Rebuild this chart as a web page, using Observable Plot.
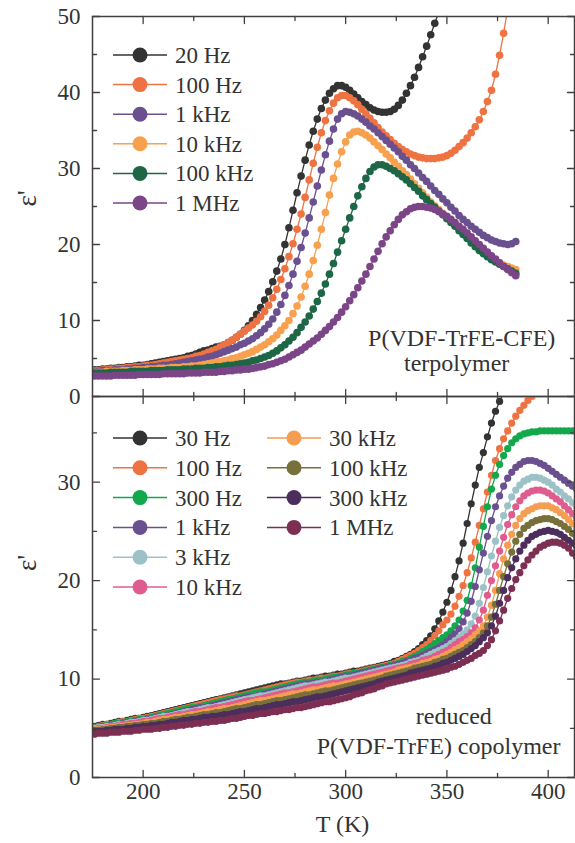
<!DOCTYPE html>
<html><head><meta charset="utf-8">
<script src="https://cdn.jsdelivr.net/npm/d3@7"></script>
<script src="https://cdn.jsdelivr.net/npm/@observablehq/plot@0.6"></script>
<style>
body{margin:0;background:#fff}
#wrap{position:relative;width:575px;height:843px;font-family:'Liberation Serif','DejaVu Serif',serif}
#wrap svg{position:absolute;left:0}
#wrap svg text{font-family:'Liberation Serif','DejaVu Serif',serif}
</style>
</head><body><div id="wrap"></div>
<script>
// temperatures: first sample and step (K)
const T0 = 176, DT = 2;

// ---------- top panel: P(VDF-TrFE-CFE) terpolymer ----------
const topLabels = ["20 Hz","100 Hz","1 kHz","10 kHz","100 kHz","1 MHz"];
const topColors = ["#333333","#ef7342","#6b5090","#f7a04e","#1d6646","#7b4588"];
const top20Hz = [3.5,3.5,3.6,3.6,3.7,3.7,3.8,3.8,3.9,3.9, 4.0,4.1,4.1,4.2,4.3,4.4,4.5,4.6,4.7,4.8, 4.9,5.0,5.1,5.3,5.4,5.6,5.8,6.0,6.1,6.3, 6.5,6.6,6.8,7.1,7.4,7.8,8.2,8.7,9.3,10.0, 10.8,11.7,12.7,13.8,15.1,16.5,18.1,20.0,22.2,24.5, 26.8,29.0,31.1,33.1,34.9,36.5,37.9,39.0,39.9,40.5, 40.9,40.9,40.7,40.3,39.8,39.3,38.8,38.4,38.0,37.7, 37.5,37.4,37.4,37.5,37.8,38.3,39.0,39.9,40.9,42.0, 43.3,44.7,46.1,47.6,49.1,50.6,52.0];
const top100Hz = [3.4,3.4,3.5,3.5,3.6,3.6,3.7,3.7,3.8,3.8, 3.9,3.9,4.0,4.1,4.1,4.2,4.3,4.4,4.5,4.6, 4.7,4.8,4.9,5.0,5.1,5.3,5.4,5.6,5.8,6.0, 6.2,6.5,6.8,7.1,7.4,7.8,8.2,8.6,9.0,9.4, 9.9,10.5,11.2,12.0,13.0,14.1,15.4,16.8,18.4,20.1, 22.0,24.0,26.2,28.5,30.7,32.8,34.7,36.3,37.6,38.6, 39.3,39.6,39.6,39.3,38.9,38.4,37.8,37.2,36.6,36.0, 35.4,34.8,34.3,33.8,33.3,32.9,32.5,32.2,31.9,31.7, 31.5,31.4,31.3,31.3,31.3,31.4,31.5,31.7,32.0,32.4, 32.9,33.4,34.0,34.7,35.5,36.4,37.5,38.8,40.3,42.4, 44.9,47.8,51.0];
const top1kHz = [3.3,3.3,3.4,3.4,3.4,3.5,3.5,3.5,3.6,3.6, 3.7,3.7,3.8,3.8,3.9,3.9,4.0,4.1,4.1,4.2, 4.3,4.4,4.5,4.6,4.7,4.8,4.9,5.0,5.2,5.3, 5.5,5.7,5.9,6.1,6.3,6.5,6.8,7.0,7.3,7.6, 8.0,8.4,8.9,9.5,10.2,11.1,12.1,13.3,14.6,16.1, 17.8,19.6,21.5,23.5,25.6,27.7,29.8,31.8,33.6,35.2, 36.5,37.2,37.5,37.4,37.2,36.9,36.5,36.1,35.6,35.2, 34.7,34.2,33.7,33.2,32.7,32.2,31.6,31.1,30.5,30.0, 29.4,28.8,28.3,27.7,27.1,26.6,26.0,25.5,24.9,24.4, 23.8,23.3,22.9,22.4,22.0,21.6,21.2,20.9,20.6,20.4, 20.2,20.1,20.0,20.1,20.4];
const top10kHz = [3.2,3.2,3.2,3.3,3.3,3.3,3.3,3.4,3.4,3.4, 3.5,3.5,3.5,3.6,3.6,3.6,3.7,3.7,3.7,3.8, 3.8,3.8,3.9,3.9,4.0,4.0,4.1,4.2,4.3,4.4, 4.5,4.6,4.7,4.8,5.0,5.1,5.3,5.5,5.7,5.9, 6.2,6.5,6.8,7.2,7.6,8.1,8.7,9.3,10.0,10.9, 11.9,13.1,14.5,16.1,17.9,19.9,22.0,24.2,26.5,28.7, 30.6,32.2,33.5,34.4,34.8,34.9,34.7,34.4,34.0,33.5, 33.0,32.5,31.9,31.4,30.8,30.3,29.7,29.2,28.6,28.0, 27.4,26.8,26.2,25.6,25.1,24.6,24.1,23.6,23.1,22.6, 22.0,21.5,21.0,20.4,19.9,19.4,19.0,18.6,18.2,17.9, 17.6,17.3,17.1,16.9,16.7];
const top100kHz = [3.1,3.1,3.1,3.1,3.2,3.2,3.2,3.2,3.2,3.3, 3.3,3.3,3.3,3.3,3.4,3.4,3.4,3.4,3.5,3.5, 3.5,3.5,3.6,3.6,3.6,3.7,3.7,3.7,3.8,3.8, 3.9,3.9,4.0,4.1,4.1,4.2,4.3,4.4,4.5,4.7, 4.8,5.0,5.2,5.4,5.7,6.0,6.4,6.8,7.3,7.8, 8.4,9.1,9.8,10.6,11.5,12.5,13.6,14.8,16.1,17.5, 19.0,20.5,22.0,23.5,25.0,26.4,27.6,28.7,29.6,30.2, 30.5,30.5,30.3,30.0,29.7,29.3,28.9,28.5,28.0,27.5, 27.0,26.4,25.9,25.4,24.9,24.4,23.9,23.4,22.9,22.4, 21.8,21.3,20.8,20.2,19.7,19.2,18.8,18.4,18.0,17.7, 17.4,17.1,16.8,16.5,16.2];
const top1MHz = [2.7,2.7,2.7,2.7,2.7,2.8,2.8,2.8,2.8,2.8, 2.8,2.9,2.9,2.9,2.9,2.9,2.9,3.0,3.0,3.0, 3.0,3.0,3.0,3.1,3.1,3.1,3.1,3.2,3.2,3.2, 3.2,3.3,3.3,3.4,3.4,3.5,3.5,3.6,3.6,3.7, 3.8,3.9,4.0,4.2,4.3,4.5,4.7,4.9,5.2,5.5, 5.8,6.1,6.5,6.9,7.3,7.7,8.2,8.7,9.2,9.8, 10.4,11.1,11.8,12.6,13.4,14.3,15.2,16.1,17.1,18.1, 19.1,20.1,21.0,21.8,22.6,23.3,23.9,24.3,24.7,24.9, 25.0,25.0,24.9,24.8,24.6,24.3,24.0,23.7,23.3,22.9, 22.4,22.0,21.5,21.0,20.5,20.0,19.5,19.0,18.5,18.1, 17.6,17.1,16.7,16.3,15.9];

// ---------- bottom panel: reduced P(VDF-TrFE) copolymer ----------
const botLabels = ["30 Hz","100 Hz","300 Hz","1 kHz","3 kHz","10 kHz","30 kHz","100 kHz","300 kHz","1 MHz"];
const botColors = ["#333333","#ef7342","#13a84c","#6b5090","#9cc1c6","#df5c8e","#f59d50","#77703a","#4b2e5c","#7c2f52"];
const bot30Hz = [5.2,5.3,5.4,5.4,5.5,5.6,5.7,5.7,5.8,5.9, 6.0,6.0,6.1,6.2,6.3,6.4,6.5,6.6,6.7,6.8, 6.9,7.0,7.1,7.2,7.3,7.4,7.5,7.6,7.7,7.8, 7.9,8.0,8.1,8.2,8.3,8.4,8.5,8.6,8.7,8.8, 8.9,9.0,9.1,9.2,9.3,9.4,9.5,9.5,9.6,9.7, 9.8,9.8,9.9,10.0,10.1,10.1,10.2,10.3,10.3,10.4, 10.5,10.5,10.6,10.7,10.8,10.8,10.9,11.0,11.1,11.2, 11.3,11.4,11.5,11.6,11.8,11.9,12.1,12.3,12.5,12.8, 13.1,13.5,13.9,14.4,15.1,15.9,16.8,17.8,19.0,20.4, 22.0,23.8,25.8,27.8,29.7,31.5,33.0,34.6,36.0,37.2, 38.2,39.1,40.0];
const bot100Hz = [5.1,5.2,5.3,5.4,5.4,5.5,5.6,5.7,5.7,5.8, 5.9,6.0,6.0,6.1,6.2,6.3,6.4,6.5,6.6,6.7, 6.8,6.9,7.0,7.1,7.2,7.3,7.4,7.5,7.6,7.7, 7.8,7.9,8.0,8.1,8.2,8.3,8.3,8.4,8.5,8.6, 8.7,8.8,8.9,9.0,9.1,9.2,9.3,9.4,9.5,9.6, 9.7,9.7,9.8,9.9,9.9,10.0,10.1,10.1,10.2,10.3, 10.3,10.4,10.5,10.6,10.6,10.7,10.8,10.9,11.0,11.1, 11.2,11.3,11.4,11.5,11.6,11.8,12.0,12.2,12.4,12.6, 12.9,13.2,13.5,13.9,14.4,14.9,15.5,16.0,16.6,17.4, 18.4,19.5,20.8,22.3,23.9,25.6,27.3,29.0,30.7,32.2, 33.4,34.4,35.2,36.0,36.7,37.3,37.8,38.3,38.7,39.1, 39.5];
const bot300Hz = [5.1,5.2,5.2,5.3,5.4,5.5,5.5,5.6,5.7,5.7, 5.8,5.9,5.9,6.0,6.1,6.2,6.3,6.4,6.5,6.6, 6.7,6.8,6.9,7.0,7.1,7.1,7.2,7.3,7.4,7.5, 7.6,7.7,7.8,7.9,8.0,8.1,8.2,8.3,8.4,8.5, 8.6,8.7,8.7,8.8,8.9,9.0,9.1,9.2,9.3,9.4, 9.5,9.6,9.7,9.7,9.8,9.9,9.9,10.0,10.1,10.2, 10.2,10.3,10.4,10.5,10.6,10.6,10.7,10.8,10.9,11.0, 11.1,11.2,11.3,11.4,11.5,11.6,11.8,11.9,12.1,12.3, 12.5,12.8,13.0,13.3,13.6,13.9,14.2,14.5,14.9,15.4, 16.0,16.9,18.0,19.5,21.3,23.4,25.5,27.5,29.3,30.7, 31.8,32.7,33.4,34.0,34.4,34.7,34.9,35.0,35.1,35.1, 35.2,35.2,35.2,35.2,35.2,35.2,35.2,35.2,35.2,35.2];
const bot1kHz = [5.0,5.1,5.2,5.2,5.3,5.4,5.4,5.5,5.6,5.6, 5.7,5.8,5.8,5.9,6.0,6.1,6.2,6.2,6.3,6.4, 6.5,6.6,6.7,6.8,6.9,7.0,7.1,7.1,7.2,7.3, 7.4,7.5,7.6,7.7,7.8,7.9,8.0,8.1,8.2,8.2, 8.3,8.4,8.5,8.6,8.7,8.8,8.9,9.0,9.1,9.2, 9.3,9.4,9.5,9.5,9.6,9.7,9.7,9.8,9.9,10.0, 10.1,10.2,10.3,10.3,10.4,10.5,10.6,10.7,10.8,10.9, 11.0,11.1,11.2,11.3,11.4,11.5,11.6,11.8,11.9,12.1, 12.2,12.4,12.6,12.8,13.0,13.2,13.5,13.8,14.2,14.6, 15.1,15.8,16.7,17.9,19.4,21.1,22.8,24.5,26.1,27.5, 28.6,29.6,30.4,31.0,31.5,31.8,32.1,32.2,32.2,32.1, 31.9,31.7,31.4,31.1,30.8,30.5,30.2,29.9,29.6,29.3];
const bot3kHz = [5.0,5.1,5.1,5.2,5.2,5.3,5.4,5.4,5.5,5.6, 5.6,5.7,5.8,5.8,5.9,6.0,6.1,6.2,6.2,6.3, 6.4,6.5,6.6,6.7,6.7,6.8,6.9,7.0,7.1,7.1, 7.2,7.3,7.4,7.5,7.6,7.7,7.8,7.9,8.0,8.1, 8.2,8.3,8.3,8.4,8.5,8.6,8.7,8.8,8.9,9.0, 9.1,9.2,9.3,9.3,9.4,9.5,9.6,9.7,9.7,9.8, 9.9,10.0,10.1,10.1,10.2,10.3,10.4,10.5,10.6,10.7, 10.8,10.9,11.0,11.1,11.2,11.3,11.4,11.5,11.7,11.8, 11.9,12.1,12.3,12.5,12.7,12.9,13.1,13.3,13.6,13.9, 14.2,14.6,15.0,15.6,16.4,17.7,19.3,20.9,22.5,24.0, 25.4,26.6,27.6,28.5,29.2,29.7,30.1,30.3,30.5,30.5, 30.4,30.2,30.0,29.7,29.3,29.0,28.6,28.3,27.9,27.5];
const bot10kHz = [4.9,5.0,5.0,5.1,5.2,5.2,5.3,5.4,5.4,5.5, 5.5,5.6,5.7,5.7,5.8,5.9,6.0,6.0,6.1,6.2, 6.3,6.4,6.4,6.5,6.6,6.7,6.7,6.8,6.9,7.0, 7.1,7.1,7.2,7.3,7.4,7.5,7.6,7.7,7.8,7.8, 7.9,8.0,8.1,8.2,8.3,8.4,8.5,8.6,8.6,8.7, 8.8,8.9,9.0,9.1,9.2,9.2,9.3,9.4,9.5,9.6, 9.6,9.7,9.8,9.9,10.0,10.1,10.2,10.3,10.4,10.5, 10.6,10.7,10.8,10.9,11.0,11.1,11.2,11.3,11.5,11.6, 11.7,11.9,12.0,12.1,12.3,12.5,12.7,12.9,13.2,13.5, 13.8,14.0,14.3,14.7,15.2,16.0,17.0,18.5,20.0,21.5, 23.0,24.4,25.7,26.7,27.5,28.1,28.6,28.9,29.1,29.2, 29.2,29.1,28.9,28.6,28.3,28.0,27.6,27.2,26.8,26.4];
const bot30kHz = [4.9,4.9,5.0,5.0,5.1,5.1,5.2,5.2,5.3,5.3, 5.4,5.4,5.5,5.6,5.6,5.7,5.8,5.9,5.9,6.0, 6.1,6.1,6.2,6.3,6.4,6.4,6.5,6.6,6.7,6.7, 6.8,6.9,7.0,7.0,7.1,7.2,7.3,7.4,7.5,7.6, 7.7,7.8,7.8,7.9,8.0,8.1,8.2,8.3,8.4,8.5, 8.5,8.6,8.7,8.8,8.9,8.9,9.0,9.1,9.2,9.3, 9.3,9.4,9.5,9.6,9.7,9.8,9.9,10.0,10.1,10.2, 10.3,10.4,10.5,10.6,10.7,10.9,11.0,11.1,11.2,11.3, 11.4,11.6,11.7,11.8,12.0,12.1,12.3,12.5,12.7,13.0, 13.2,13.5,13.8,14.1,14.5,14.9,15.4,16.3,17.5,19.0, 20.7,22.2,23.6,24.7,25.6,26.3,26.8,27.1,27.3,27.5, 27.6,27.6,27.6,27.4,27.2,26.9,26.6,26.2,25.8,25.4];
const bot100kHz = [4.8,4.8,4.9,4.9,5.0,5.0,5.1,5.1,5.2,5.2, 5.3,5.3,5.4,5.4,5.5,5.5,5.6,5.7,5.7,5.8, 5.9,5.9,6.0,6.1,6.1,6.2,6.3,6.4,6.4,6.5, 6.6,6.6,6.7,6.8,6.9,7.0,7.0,7.1,7.2,7.3, 7.4,7.4,7.5,7.6,7.7,7.8,7.8,7.9,8.0,8.1, 8.2,8.3,8.4,8.4,8.5,8.6,8.7,8.8,8.8,8.9, 9.0,9.1,9.2,9.3,9.4,9.5,9.6,9.7,9.8,9.9, 10.0,10.1,10.3,10.4,10.5,10.6,10.7,10.8,10.9,11.1, 11.2,11.3,11.4,11.5,11.7,11.8,12.0,12.1,12.3,12.5, 12.7,12.9,13.2,13.5,13.8,14.2,14.7,15.4,16.3,17.6, 19.0,20.4,21.7,22.9,24.0,24.7,25.3,25.6,25.9,26.1, 26.2,26.3,26.3,26.2,26.0,25.8,25.5,25.2,24.8,24.4];
const bot300kHz = [4.6,4.7,4.7,4.8,4.8,4.9,4.9,4.9,5.0,5.0, 5.1,5.1,5.2,5.2,5.3,5.3,5.4,5.4,5.5,5.6, 5.6,5.7,5.8,5.8,5.9,5.9,6.0,6.1,6.1,6.2, 6.2,6.3,6.4,6.4,6.5,6.6,6.7,6.7,6.8,6.9, 7.0,7.0,7.1,7.2,7.3,7.4,7.4,7.5,7.6,7.7, 7.7,7.8,7.9,8.0,8.1,8.2,8.2,8.3,8.4,8.5, 8.6,8.7,8.8,8.9,9.0,9.1,9.2,9.3,9.4,9.5, 9.7,9.8,9.9,10.0,10.1,10.2,10.3,10.4,10.6,10.7, 10.8,10.9,11.0,11.1,11.3,11.4,11.6,11.7,11.9,12.1, 12.3,12.5,12.8,13.1,13.4,13.8,14.2,14.7,15.4,16.4, 17.7,19.0,20.3,21.3,22.2,23.0,23.6,24.1,24.5,24.7, 24.9,25.0,25.1,25.0,24.9,24.7,24.4,24.1,23.8,23.5];
const bot1MHz = [4.4,4.5,4.5,4.5,4.6,4.6,4.6,4.7,4.7,4.7, 4.8,4.8,4.9,4.9,4.9,5.0,5.0,5.1,5.1,5.2, 5.2,5.3,5.3,5.4,5.4,5.5,5.5,5.6,5.6,5.7, 5.7,5.8,5.8,5.9,6.0,6.0,6.1,6.2,6.3,6.3, 6.4,6.5,6.5,6.6,6.7,6.7,6.8,6.9,6.9,7.0, 7.1,7.1,7.2,7.3,7.4,7.5,7.6,7.7,7.7,7.8, 7.9,8.0,8.1,8.2,8.4,8.5,8.6,8.8,8.9,9.0, 9.2,9.3,9.5,9.6,9.7,9.8,9.9,10.0,10.1,10.2, 10.3,10.4,10.5,10.6,10.7,10.8,10.9,11.0,11.2,11.3, 11.5,11.7,11.9,12.1,12.4,12.6,12.9,13.4,14.0,14.9, 15.9,17.0,18.2,19.2,20.1,20.8,21.5,22.1,22.6,23.0, 23.4,23.6,23.8,23.9,23.9,23.8,23.6,23.3,22.8,22.4];

// ---------- axes ----------
const xDomain = [175, 413];
const xMajor = [200, 250, 300, 350, 400];
const xMinor = [225, 275, 325, 375];
const yTopDomain = [0, 50];
const yTopMajor = [0, 10, 20, 30, 40, 50];
const yTopMinor = [5, 15, 25, 35, 45];
const yBotDomain = [0, 38.7];
const yBotMajor = [0, 10, 20, 30];
const yBotMinor = [5, 15, 25, 35];
const xLabel = "T (K)";
const yLabel = "ε'";
const topNote = ["P(VDF-TrFE-CFE)", "terpolymer"];
const botNote = ["reduced", "P(VDF-TrFE) copolymer"];

const topValues = [top20Hz, top100Hz, top1kHz, top10kHz, top100kHz, top1MHz];
const botValues = [bot30Hz, bot100Hz, bot300Hz, bot1kHz, bot3kHz, bot10kHz, bot30kHz, bot100kHz, bot300kHz, bot1MHz];

const INK = "#404040";
const FONT = "Liberation Serif, DejaVu Serif, serif";
const tickShape = {draw(ctx, l) { ctx.moveTo(0, 0); ctx.lineTo(0, -l); }};

function seriesMarks(values, colors, r) {
  return values.flatMap((vals, k) => {
    const data = vals.map((e, i) => ({T: T0 + DT * i, e}));
    return [
      Plot.line(data, {x: "T", y: "e", stroke: colors[k], strokeWidth: 1.3, clip: true}),
      Plot.dot(data, {x: "T", y: "e", fill: colors[k], r, clip: true})
    ];
  });
}
function frameTicks(yMaj, yMin) {
  const st = {stroke: INK, strokeWidth: 1.3, anchor: "start", shape: tickShape};
  const M = 7, m = 4;
  return [
    Plot.vector(xMajor, {x: d => d, frameAnchor: "bottom", rotate: 0, length: M, ...st}),
    Plot.vector(xMinor, {x: d => d, frameAnchor: "bottom", rotate: 0, length: m, ...st}),
    Plot.vector(xMajor, {x: d => d, frameAnchor: "top", rotate: 180, length: M, ...st}),
    Plot.vector(xMinor, {x: d => d, frameAnchor: "top", rotate: 180, length: m, ...st}),
    Plot.vector(yMaj, {y: d => d, frameAnchor: "left", rotate: 90, length: M, ...st}),
    Plot.vector(yMin, {y: d => d, frameAnchor: "left", rotate: 90, length: m, ...st}),
    Plot.vector(yMaj, {y: d => d, frameAnchor: "right", rotate: -90, length: M, ...st}),
    Plot.vector(yMin, {y: d => d, frameAnchor: "right", rotate: -90, length: m, ...st})
  ];
}
const baseStyle = {fontFamily: FONT, fontSize: "23px", color: "#333", background: "transparent", overflow: "visible"};

const topPlot = Plot.plot({
  width: 575, height: 397, marginTop: 16, marginBottom: 1, marginLeft: 92, marginRight: 1,
  x: {domain: xDomain, axis: null},
  y: {domain: yTopDomain, axis: null},
  style: baseStyle,
  marks: [
    ...seriesMarks(topValues, topColors, 3.8),
    Plot.frame({stroke: INK, strokeWidth: 1.5}),
    ...frameTicks(yTopMajor, yTopMinor),
    Plot.axisY(yTopMajor, {anchor: "left", tickSize: 0, tickPadding: 12, label: null, fontSize: 23, fontFamily: FONT}),
    Plot.text([yLabel], {text: d => d, frameAnchor: "left", dx: -65, dy: 0, rotate: -90, fontSize: 27, fill: "#333", fontFamily: FONT}),
    Plot.text([topNote[0]], {text: d => d, x: () => 357.3, y: () => 7.7, fontSize: 24, fill: "#333", fontFamily: FONT}),
    Plot.text([topNote[1]], {text: d => d, x: () => 354.8, y: () => 4.35, fontSize: 24, fill: "#333", fontFamily: FONT})
  ]
});
topPlot.style.top = "0px";

const botPlot = Plot.plot({
  width: 575, height: 448, marginTop: 1, marginBottom: 66, marginLeft: 92, marginRight: 1,
  x: {domain: xDomain, axis: null},
  y: {domain: yBotDomain, axis: null},
  style: baseStyle,
  marks: [
    ...seriesMarks(botValues, botColors, 3.6),
    Plot.frame({stroke: INK, strokeWidth: 1.5}),
    ...frameTicks(yBotMajor, yBotMinor),
    Plot.axisY(yBotMajor, {anchor: "left", tickSize: 0, tickPadding: 12, label: null, fontSize: 23, fontFamily: FONT}),
    Plot.axisX(xMajor, {anchor: "bottom", tickSize: 0, tickPadding: 5, label: null, fontSize: 23, fontFamily: FONT}),
    Plot.text([xLabel], {text: d => d, frameAnchor: "bottom", lineAnchor: "middle", dx: 9, dy: 47, fontSize: 24, fill: "#333", fontFamily: FONT}),
    Plot.text([yLabel], {text: d => d, frameAnchor: "left", dx: -65, dy: -16, rotate: -90, fontSize: 27, fill: "#333", fontFamily: FONT}),
    Plot.text([botNote[0]], {text: d => d, x: () => 353.4, y: () => 6.25, fontSize: 24, fill: "#333", fontFamily: FONT}),
    Plot.text([botNote[1]], {text: d => d, x: () => 345.9, y: () => 3.2, fontSize: 24, fill: "#333", fontFamily: FONT})
  ]
});
botPlot.style.top = "395px";

const wrap = document.getElementById("wrap");
wrap.appendChild(topPlot);
wrap.appendChild(botPlot);

// ---------- legends (overlay) ----------
const leg = d3.select(wrap).append("svg")
  .attr("width", 575).attr("height", 843)
  .style("top", "0px").style("pointer-events", "none")
  .attr("font-family", FONT).attr("font-size", 23);

function legendColumn(labels, colors, x0, y0, dy) {
  labels.forEach((lab, i) => {
    const y = y0 + i * dy;
    const g = leg.append("g");
    g.append("line").attr("x1", x0).attr("x2", x0 + 54).attr("y1", y).attr("y2", y)
      .attr("stroke", colors[i]).attr("stroke-width", 1.5);
    g.append("circle").attr("cx", x0 + 27).attr("cy", y).attr("r", 7.5).attr("fill", colors[i]);
    g.append("text").attr("x", x0 + 62).attr("y", y).attr("dy", "0.35em").attr("fill", "#333").text(lab);
  });
}
legendColumn(topLabels, topColors, 113, 55, 29.6);
legendColumn(botLabels.slice(0, 6), botColors.slice(0, 6), 113, 438, 29.8);
legendColumn(botLabels.slice(6), botColors.slice(6), 267, 438, 29.8);
</script>
</body></html>
